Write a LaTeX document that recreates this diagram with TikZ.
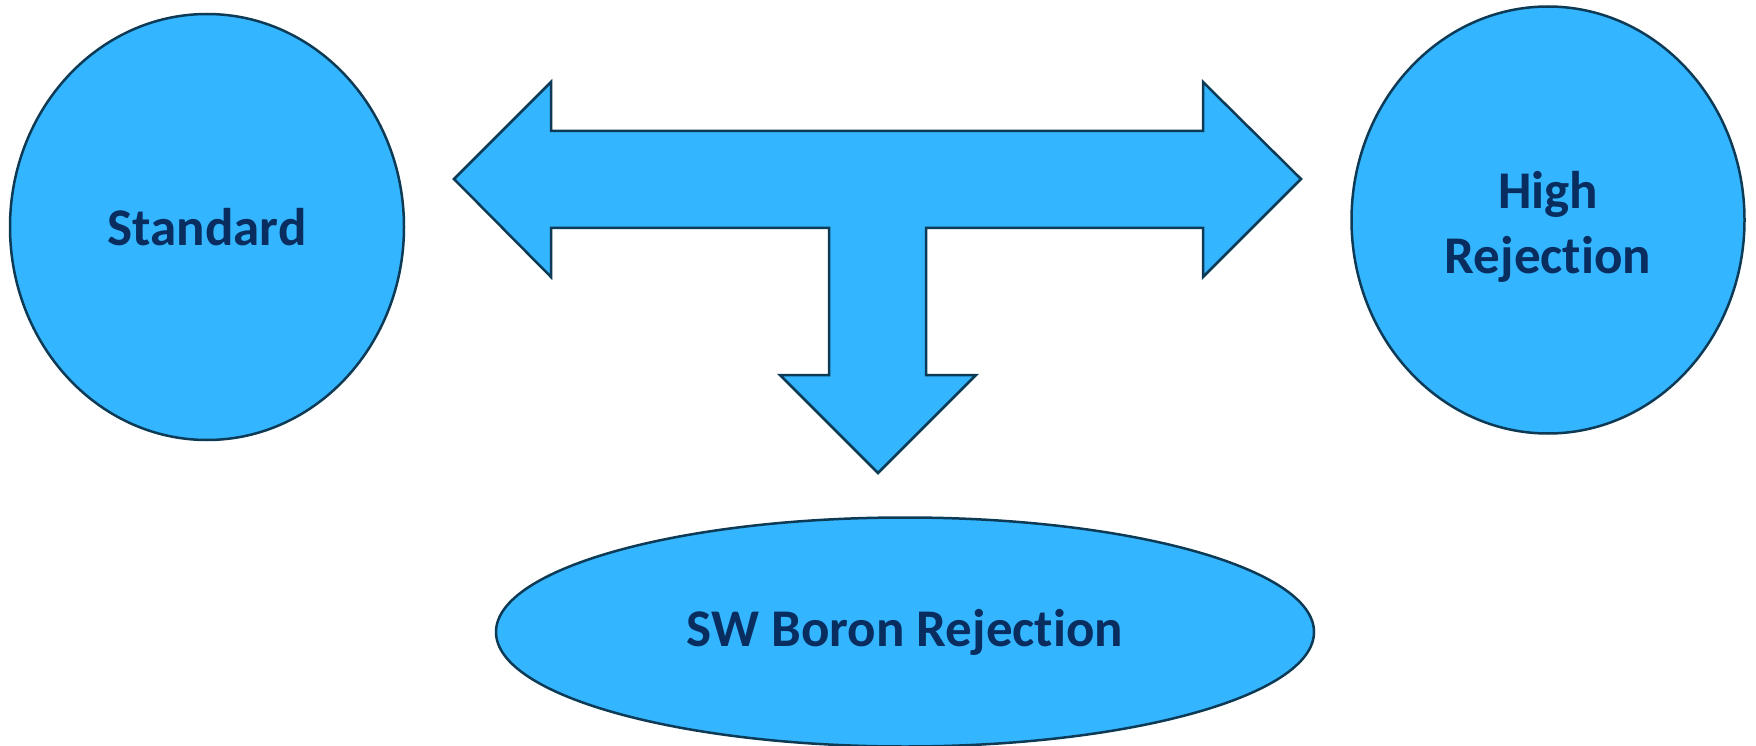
\documentclass[tikz,border=0pt]{standalone}
\usepackage{fontspec}
\setmainfont{Carlito}[RawFeature=-liga]
\usetikzlibrary{shapes.geometric,calc}
\definecolor{memfill}{HTML}{33B5FF}
\definecolor{memline}{HTML}{0D3A55}
\definecolor{memtext}{HTML}{082D5E}
\tikzset{
  memb/.style={ellipse, draw=memline, fill=memfill, line width=2.5pt, inner sep=0pt, align=center,
    text=memtext, font=\fontsize{53}{65}\selectfont\bfseries},
  tarrow/.style={draw=memline, fill=memfill, line width=2.5pt, line join=miter},
}

\begin{document}
\begin{tikzpicture}[x=1pt, y=-1pt]
    \useasboundingbox (0,0) rectangle (1756,746);
    \node[memb, minimum width=394pt, minimum height=426pt] (std) at (207,227) {Standard};
    \node[memb, minimum width=393pt, minimum height=427pt] (high) at (1548,220) {\rule{0pt}{50pt}High\\Rejection};
    \node[memb, minimum width=818pt, minimum height=229pt] (swb) at (905,632) {SW Boron Rejection};
    % three-way arrow
    \draw[tarrow] (454,179) -- (551,82) -- (551,131) -- (1203,131) -- (1203,82) -- (1301,179)
      -- (1203,277) -- (1203,228) -- (926,228) -- (926,375) -- (976,375) -- (878,473)
      -- (780,375) -- (829,375) -- (829,228) -- (551,228) -- (551,277) -- cycle;
  \end{tikzpicture}
\end{document}
